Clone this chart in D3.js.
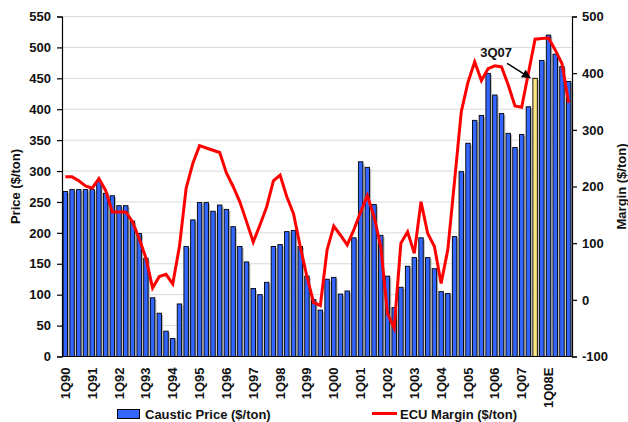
<!DOCTYPE html>
<html>
<head>
<meta charset="utf-8">
<script src="https://cdn.jsdelivr.net/npm/d3@7"></script>
<style>
  body { margin: 0; background: #fff; }
  svg text { font-family: "Liberation Sans", Arial, sans-serif; font-weight: bold; fill: #111; }
</style>
</head>
<body>
<div id="chart"></div>
<script>
const years = ["90","91","92","93","94","95","96","97","98","99","00","01","02","03","04","05","06","07","08"];
const quarters = [];
years.forEach(y => [1, 2, 3, 4].forEach(q => quarters.push(q + "Q" + y)));

const tickLabels = ["1Q90","1Q91","1Q92","1Q93","1Q94","1Q95","1Q96","1Q97","1Q98","1Q99",
  "1Q00","1Q01","1Q02","1Q03","1Q04","1Q05","1Q06","1Q07","1Q08E"];

const price = [
  267, 270, 270, 270,
  270, 283, 264, 260,
  244, 244, 219, 199,
  159, 95, 70, 41,
  29, 85, 178, 221,
  249, 249, 235, 245,
  238, 210, 178, 153,
  110, 100, 120, 178,
  181, 202, 204, 178,
  130, 92, 75, 125,
  128, 101, 106, 192,
  315, 306, 246, 196,
  130, 79, 112, 146,
  160, 192, 160, 142,
  105, 102, 194, 299,
  345, 382, 390, 458,
  423, 393, 361, 338,
  359, 404, 450, 479,
  520, 489, 469, 445
];

const margin = [
  217, 217, 210, 201,
  197, 214, 193, 155,
  155, 155, 138, 108,
  74, 21, 41, 45,
  28, 94, 197, 241,
  272, 268, 264, 260,
  224, 200, 173, 138,
  102, 132, 164, 210,
  220, 182, 152, 94,
  41, -5, -10, 88,
  130, 114, 97, 124,
  155, 184, 147, 94,
  -24, -50, 100, 120,
  82, 173, 117, 94,
  29, 89, 210, 332,
  384, 420, 387, 408,
  413, 411, 379, 342,
  340, 400, 460, 461,
  462, 441, 417, 348
];

const highlight = "3Q07";

const width = 628, height = 422;
const m = { left: 62, right: 56, top: 16.5, bottom: 65.5 };

const svg = d3.select("#chart").append("svg")
  .attr("width", width)
  .attr("height", height);

const x = d3.scaleBand()
  .domain(quarters)
  .range([m.left, width - m.right])
  .paddingInner(0.34)
  .paddingOuter(0.17);

const yL = d3.scaleLinear().domain([0, 550]).range([height - m.bottom, m.top]);
const yR = d3.scaleLinear().domain([-100, 500]).range([height - m.bottom, m.top]);

// gridlines
svg.append("g")
  .selectAll("line")
  .data(yL.ticks(11))
  .enter().append("line")
    .attr("x1", m.left)
    .attr("x2", width - m.right)
    .attr("y1", d => yL(d))
    .attr("y2", d => yL(d))
    .attr("stroke", "#d9d9d9")
    .attr("stroke-width", 1);

const data = quarters.map((q, i) => ({ q, price: price[i], margin: margin[i] }));

// bar shadows
svg.append("g")
  .selectAll("rect")
  .data(data)
  .enter().append("rect")
    .attr("x", d => x(d.q) + 1.6)
    .attr("y", d => yL(d.price) + 1.6)
    .attr("width", x.bandwidth())
    .attr("height", d => yL(0) - yL(d.price) - 1.6)
    .attr("fill", "#bdbdbd");

svg.append("g")
  .selectAll("rect")
  .data(data)
  .enter().append("rect")
    .attr("x", d => x(d.q))
    .attr("y", d => yL(d.price))
    .attr("width", x.bandwidth())
    .attr("height", d => yL(0) - yL(d.price))
    .attr("fill", d => d.q === highlight ? "#ffe680" : "#3366ff")
    .attr("stroke", "#000")
    .attr("stroke-width", 0.9);

// margin line
const line = d3.line()
  .x(d => x(d.q) + x.bandwidth() / 2)
  .y(d => yR(d.margin));

svg.append("path")
  .datum(data)
  .attr("fill", "none")
  .attr("stroke", "#ff0000")
  .attr("stroke-width", 3)
  .attr("d", line);

// axes
const axL = svg.append("g")
  .attr("transform", `translate(${m.left},0)`)
  .call(d3.axisLeft(yL).ticks(11).tickSize(5).tickPadding(6));
const axR = svg.append("g")
  .attr("transform", `translate(${width - m.right},0)`)
  .call(d3.axisRight(yR).ticks(6).tickSize(5).tickPadding(5).tickFormat(d => String(d)));
[axL, axR].forEach(a => {
  a.select(".domain").attr("stroke", "#000").attr("stroke-width", 1.2);
  a.selectAll(".tick line").attr("stroke", "#000").attr("stroke-width", 1.2);
  a.selectAll("text").style("font-size", "13px").attr("fill", "#111");
});

svg.append("line")
  .attr("x1", m.left)
  .attr("x2", width - m.right)
  .attr("y1", yL(0))
  .attr("y2", yL(0))
  .attr("stroke", "#000")
  .attr("stroke-width", 1.2);

// x labels
svg.append("g")
  .selectAll("text")
  .data(tickLabels)
  .enter().append("text")
    .attr("transform", (d, i) => `translate(${x(quarters[i * 4]) + x.bandwidth() / 2},${height - m.bottom + 11}) rotate(-90)`)
    .attr("text-anchor", "end")
    .attr("dy", "0.35em")
    .style("font-size", "13px")
    .text(d => d);

// axis titles
svg.append("text")
  .attr("transform", `translate(15,${(m.top + height - m.bottom) / 2}) rotate(-90)`)
  .attr("text-anchor", "middle")
  .attr("dy", "0.35em")
  .style("font-size", "13px")
  .text("Price ($/ton)");

svg.append("text")
  .attr("transform", `translate(621,${(m.top + height - m.bottom) / 2}) rotate(-90)`)
  .attr("text-anchor", "middle")
  .attr("dy", "0.35em")
  .style("font-size", "13px")
  .text("Margin ($/ton)");

// annotation
const hx = x(highlight) + x.bandwidth() / 2;
const hy = yL(price[quarters.indexOf(highlight)]);
svg.append("defs").append("marker")
  .attr("id", "arrow")
  .attr("viewBox", "0 0 10 10")
  .attr("refX", 9).attr("refY", 5)
  .attr("markerWidth", 6).attr("markerHeight", 6)
  .attr("orient", "auto")
  .append("path")
    .attr("d", "M0,0L10,5L0,10z")
    .attr("fill", "#000");

svg.append("line")
  .attr("x1", hx - 28)
  .attr("y1", hy - 15)
  .attr("x2", hx - 5)
  .attr("y2", hy - 0.5)
  .attr("stroke", "#000")
  .attr("stroke-width", 1.5)
  .attr("marker-end", "url(#arrow)");

svg.append("text")
  .attr("x", hx - 39)
  .attr("y", hy - 21)
  .attr("text-anchor", "middle")
  .style("font-size", "13px")
  .text(highlight);

// legend
const lg = svg.append("g");
lg.append("rect")
  .attr("x", 117.5).attr("y", 409.5)
  .attr("width", 22).attr("height", 9)
  .attr("fill", "#3366ff")
  .attr("stroke", "#000");
lg.append("text")
  .attr("x", 145).attr("y", 418.5)
  .style("font-size", "13px")
  .text("Caustic Price ($/ton)");
lg.append("line")
  .attr("x1", 372).attr("x2", 397)
  .attr("y1", 413.5).attr("y2", 413.5)
  .attr("stroke", "#ff0000")
  .attr("stroke-width", 3);
lg.append("text")
  .attr("x", 400).attr("y", 418.5)
  .style("font-size", "13px")
  .text("ECU Margin ($/ton)");
</script>
</body>
</html>
